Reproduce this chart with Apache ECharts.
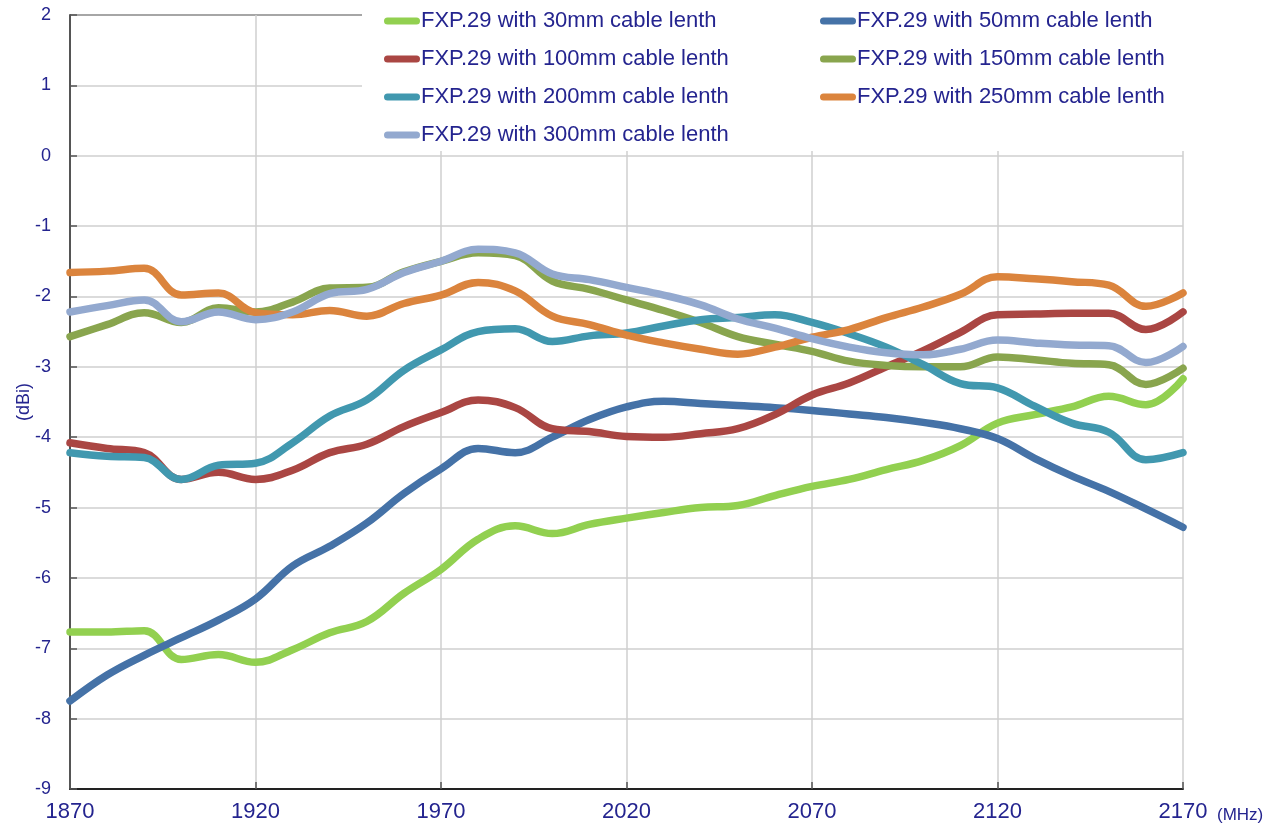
<!DOCTYPE html>
<html>
<head>
<meta charset="utf-8">
<title>FXP.29 gain vs cable length</title>
<script src="https://cdn.jsdelivr.net/npm/echarts@6/dist/echarts.min.js"></script>
<style>
  html, body { margin: 0; padding: 0; background: #fff; }
  #main { width: 1288px; height: 830px; }
</style>
</head>
<body>
<div id="main"></div>
<script>
// frequency in MHz, one reading every 10 MHz
var freqs = [1870, 1880, 1890, 1900, 1910, 1920, 1930, 1940, 1950, 1960,
  1970, 1980, 1990, 2000, 2010, 2020, 2030, 2040, 2050, 2060,
  2070, 2080, 2090, 2100, 2110, 2120, 2130, 2140, 2150, 2160, 2170]

// gain in dBi
var gain30 = [-6.77, -6.77, -6.75, -7.16, -7.09, -7.20, -7.02, -6.78, -6.62, -6.22,
  -5.88, -5.45, -5.26, -5.37, -5.24, -5.15, -5.07, -5.00, -4.97, -4.83,
  -4.70, -4.60, -4.46, -4.33, -4.12, -3.80, -3.68, -3.57, -3.42, -3.54, -3.17]
var gain50 = [-7.75, -7.38, -7.10, -6.85, -6.60, -6.30, -5.83, -5.55, -5.22, -4.80,
  -4.45, -4.16, -4.22, -4.00, -3.75, -3.57, -3.49, -3.52, -3.55, -3.58,
  -3.62, -3.67, -3.72, -3.79, -3.88, -4.02, -4.30, -4.55, -4.77, -5.02, -5.28]
var gain100 = [-4.08, -4.16, -4.22, -4.60, -4.50, -4.60, -4.47, -4.22, -4.10, -3.85,
  -3.65, -3.47, -3.58, -3.88, -3.92, -3.99, -4.00, -3.95, -3.88, -3.68,
  -3.40, -3.23, -3.00, -2.77, -2.51, -2.26, -2.25, -2.24, -2.24, -2.47, -2.22]
var gain150 = [-2.57, -2.40, -2.23, -2.37, -2.16, -2.22, -2.08, -1.88, -1.87, -1.65,
  -1.50, -1.38, -1.42, -1.78, -1.90, -2.05, -2.20, -2.37, -2.57, -2.68,
  -2.78, -2.92, -2.98, -3.00, -3.00, -2.86, -2.90, -2.95, -2.97, -3.25, -3.02]
var gain200 = [-4.22, -4.27, -4.29, -4.60, -4.40, -4.37, -4.08, -3.70, -3.47, -3.05,
  -2.76, -2.50, -2.46, -2.64, -2.56, -2.52, -2.42, -2.33, -2.30, -2.26,
  -2.37, -2.53, -2.72, -2.97, -3.24, -3.30, -3.56, -3.80, -3.93, -4.32, -4.22]
var gain250 = [-1.66, -1.64, -1.60, -1.98, -1.95, -2.23, -2.26, -2.20, -2.28, -2.10,
  -1.98, -1.80, -1.92, -2.28, -2.40, -2.55, -2.66, -2.75, -2.82, -2.72,
  -2.58, -2.47, -2.30, -2.15, -1.97, -1.72, -1.75, -1.79, -1.84, -2.14, -1.95]
var gain300 = [-2.22, -2.13, -2.05, -2.36, -2.22, -2.33, -2.22, -1.96, -1.90, -1.66,
  -1.50, -1.33, -1.38, -1.68, -1.76, -1.87, -1.98, -2.12, -2.32, -2.45,
  -2.60, -2.72, -2.80, -2.83, -2.75, -2.62, -2.66, -2.69, -2.70, -2.94, -2.71]

var names = [
  'FXP.29 with 30mm cable lenth',
  'FXP.29 with 50mm cable lenth',
  'FXP.29 with 100mm cable lenth',
  'FXP.29 with 150mm cable lenth',
  'FXP.29 with 200mm cable lenth',
  'FXP.29 with 250mm cable lenth',
  'FXP.29 with 300mm cable lenth'
]
var gains = [gain30, gain50, gain100, gain150, gain200, gain250, gain300]
var colors = ['#92D050', '#4572A7', '#AA4643', '#89A54E', '#4198AF', '#DB843D', '#93A9CF']

var textColor = '#24248f'
var font = 'Liberation Sans, Arial, sans-serif'
// capsule shaped legend mark
var capsule = 'path://M3.5 0H32.5A3.5 3.5 0 0 1 32.5 7H3.5A3.5 3.5 0 0 1 3.5 0Z'

var series = names.map(function(name, i) {
  return {
    name: name,
    type: 'line',
    smooth: 0.4,
    showSymbol: false,
    symbol: 'none',
    color: colors[i],
    lineStyle: { width: 7.5, color: colors[i], cap: 'round', join: 'round' },
    data: freqs.map(function(f, k) { return [f, gains[i][k]] })
  }
})

function legendCol(left, items) {
  return {
    left: left,
    top: 9,
    orient: 'vertical',
    padding: 0,
    z: 10,
    icon: capsule,
    itemWidth: 36,
    itemHeight: 7,
    itemGap: 14,
    itemStyle: { borderWidth: 0 },
    textStyle: { color: textColor, fontSize: 22, fontFamily: font, lineHeight: 24, padding: [0, 0, 0, -4] },
    data: items
  }
}

var myChart = echarts.init(document.getElementById('main'))
var option = {
  backgroundColor: '#fff',
  animation: false,
  color: colors,
  grid: { left: 70, right: 105, top: 15, bottom: 41 },
  legend: [
    legendCol(384, [names[0], names[2], names[4], names[6]]),
    legendCol(820, [names[1], names[3], names[5]])
  ],
  // white box behind the legend hides the grid there
  graphic: [{
    type: 'rect',
    z: 5,
    shape: { x: 362, y: 0, width: 860, height: 151 },
    style: { fill: '#fff' }
  }],
  xAxis: {
    type: 'value',
    min: 1870,
    max: 2170,
    interval: 50,
    name: '(MHz)',
    nameLocation: 'end',
    nameGap: 34,
    nameTextStyle: { color: textColor, fontSize: 17, fontFamily: font, align: 'left', verticalAlign: 'top', padding: [18, 0, 0, 0] },
    axisLine: { onZero: false, lineStyle: { color: '#222', width: 2 } },
    axisTick: { inside: true, length: 7, lineStyle: { color: '#555', width: 1.5 } },
    axisLabel: {
      color: textColor, fontSize: 22, fontFamily: font, margin: 12,
      formatter: function(v) { return String(v) }
    },
    splitLine: { lineStyle: { color: '#cfcfcf', width: 1.5 } }
  },
  yAxis: {
    type: 'value',
    min: -9,
    max: 2,
    interval: 1,
    name: '(dBi)',
    nameLocation: 'middle',
    nameGap: 37,
    nameMoveOverlap: false,
    nameTextStyle: { color: textColor, fontSize: 18, fontFamily: font },
    axisLine: { show: true, lineStyle: { color: '#555', width: 2 } },
    axisTick: { show: true, inside: true, length: 7, lineStyle: { color: '#555', width: 1.5 } },
    axisLabel: { color: textColor, fontSize: 18, fontFamily: font, margin: 19 },
    splitLine: {
      lineStyle: {
        color: ['#cfcfcf', '#cfcfcf', '#cfcfcf', '#cfcfcf', '#cfcfcf', '#cfcfcf',
          '#cfcfcf', '#cfcfcf', '#cfcfcf', '#cfcfcf', '#cfcfcf', '#888'],
        width: 1.5
      }
    }
  },
  series: series
}
myChart.setOption(option)
</script>
</body>
</html>
